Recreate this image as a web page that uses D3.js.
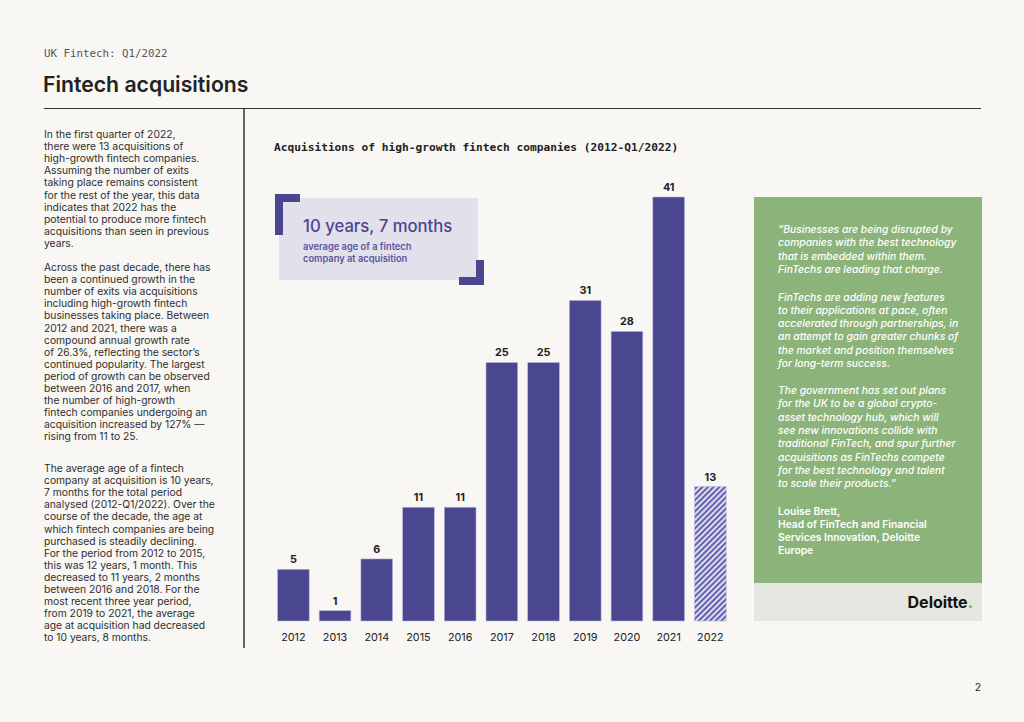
<!DOCTYPE html>
<html>
<head>
<meta charset="utf-8">
<script src="https://cdn.jsdelivr.net/npm/d3@7"></script>
<style>
  html, body { margin: 0; padding: 0; background: #f8f7f4; }
  svg { display: block; }
</style>
</head>
<body>
<div id="page"></div>
<script>
// data
var years = ["2012", "2013", "2014", "2015", "2016", "2017", "2018", "2019", "2020", "2021", "2022"];
var acquisitions = [5, 1, 6, 11, 11, 25, 25, 31, 28, 41, 13];
var partialYear = "2022"; // Q1 only, drawn hatched

var para1 = [
  "In the first quarter of 2022,",
  "there were 13 acquisitions of",
  "high-growth fintech companies.",
  "Assuming the number of exits",
  "taking place remains consistent",
  "for the rest of the year, this data",
  "indicates that 2022 has the",
  "potential to produce more fintech",
  "acquisitions than seen in previous",
  "years."
];
var para2 = [
  "Across the past decade, there has",
  "been a continued growth in the",
  "number of exits via acquisitions",
  "including high-growth fintech",
  "businesses taking place. Between",
  "2012 and 2021, there was a",
  "compound annual growth rate",
  "of 26.3%, reflecting the sector\u2019s",
  "continued popularity. The largest",
  "period of growth can be observed",
  "between 2016 and 2017, when",
  "the number of high-growth",
  "fintech companies undergoing an",
  "acquisition increased by 127% \u2014",
  "rising from 11 to 25."
];
var para3 = [
  "The average age of a fintech",
  "company at acquisition is 10 years,",
  "7 months for the total period",
  "analysed (2012-Q1/2022). Over the",
  "course of the decade, the age at",
  "which fintech companies are being",
  "purchased is steadily declining.",
  "For the period from 2012 to 2015,",
  "this was 12 years, 1 month. This",
  "decreased to 11 years, 2 months",
  "between 2016 and 2018. For the",
  "most recent three year period,",
  "from 2019 to 2021, the average",
  "age at acquisition had decreased",
  "to 10 years, 8 months."
];

var quote1 = [
  "\u201cBusinesses are being disrupted by",
  "companies with the best technology",
  "that is embedded within them.",
  "FinTechs are leading that charge."
];
var quote2 = [
  "FinTechs are adding new features",
  "to their applications at pace, often",
  "accelerated through partnerships, in",
  "an attempt to gain greater chunks of",
  "the market and position themselves",
  "for long-term success."
];
var quote3 = [
  "The government has set out plans",
  "for the UK to be a global crypto-",
  "asset technology hub, which will",
  "see new innovations collide with",
  "traditional FinTech, and spur further",
  "acquisitions as FinTechs compete",
  "for the best technology and talent",
  "to scale their products.\u201d"
];
var author = [
  "Louise Brett,",
  "Head of FinTech and Financial",
  "Services Innovation, Deloitte",
  "Europe"
];

var w = 1024;
var h = 722;
var purple = "#4a4690";
var sans = "Inter, Roboto, sans-serif";
var mono = "'DejaVu Sans Mono', 'Liberation Mono', monospace";

var svg = d3.select("#page").append("svg")
  .attr("width", w)
  .attr("height", h);

svg.append("rect").attr("width", w).attr("height", h).attr("fill", "#f8f7f4");

// hatch for the partial year
var defs = svg.append("defs");
var hatch = defs.append("pattern")
  .attr("id", "hatch")
  .attr("patternUnits", "userSpaceOnUse")
  .attr("width", 4)
  .attr("height", 4)
  .attr("patternTransform", "rotate(-45)");
hatch.append("rect").attr("width", 4).attr("height", 4).attr("fill", "#dcdcef");
hatch.append("rect").attr("width", 4).attr("height", 2).attr("fill", "#6561ae");

// header
svg.append("text")
  .attr("x", 44).attr("y", 57)
  .attr("font-family", mono).attr("font-size", "10.8px")
  .attr("fill", "#555")
  .text("UK Fintech: Q1/2022");

svg.append("text")
  .attr("x", 43).attr("y", 92)
  .attr("font-family", sans).attr("font-size", "21.2px").attr("font-weight", 600)
  .attr("fill", "#222")
  .text("Fintech acquisitions");

svg.append("line")
  .attr("x1", 44).attr("x2", 981).attr("y1", 108.5).attr("y2", 108.5)
  .attr("stroke", "#333").attr("stroke-width", 1.2);
svg.append("line")
  .attr("x1", 244).attr("x2", 244).attr("y1", 108).attr("y2", 648)
  .attr("stroke", "#333").attr("stroke-width", 1.5);

// text blocks
function block(lines, x, y, lh, opts) {
  var t = svg.append("text")
    .attr("font-family", sans)
    .attr("font-size", opts.size)
    .attr("fill", opts.fill)
    .attr("font-style", opts.style || "normal")
    .attr("font-weight", opts.weight || 400);
  t.selectAll("tspan")
    .data(lines)
    .enter()
    .append("tspan")
    .attr("x", x)
    .attr("y", function(d, i) { return y + i * lh; })
    .text(function(d) { return d; });
}

var bodyOpts = {size: "10.3px", fill: "#2e2e2e"};
block(para1, 44, 138, 12.1, bodyOpts);
block(para2, 44, 271, 12.1, bodyOpts);
block(para3, 44, 472, 12.1, bodyOpts);

// chart title
svg.append("text")
  .attr("x", 274).attr("y", 151)
  .attr("font-family", mono).attr("font-size", "11.2px").attr("font-weight", 700)
  .attr("fill", "#222")
  .text("Acquisitions of high-growth fintech companies (2012-Q1/2022)");

// bars
var x = d3.scaleBand()
  .domain(years)
  .range([272.5, 731.2])
  .paddingInner(0.24)
  .paddingOuter(0.12);

var y = d3.scaleLinear()
  .domain([0, 41])
  .range([621, 197]);

var bars = svg.append("g");
bars.selectAll("rect")
  .data(acquisitions)
  .enter()
  .append("rect")
  .attr("x", function(d, i) { return x(years[i]); })
  .attr("y", function(d) { return y(d); })
  .attr("width", x.bandwidth())
  .attr("height", function(d) { return y(0) - y(d); })
  .attr("fill", function(d, i) { return years[i] === partialYear ? "url(#hatch)" : purple; })
  .attr("stroke", "#b9b7dc")
  .attr("stroke-width", 0.6);

bars.selectAll("text")
  .data(acquisitions)
  .enter()
  .append("text")
  .text(function(d) { return d; })
  .attr("x", function(d, i) { return x(years[i]) + x.bandwidth() / 2; })
  .attr("y", function(d) { return y(d) - 6; })
  .attr("text-anchor", "middle")
  .attr("font-family", sans).attr("font-size", "10.8px").attr("font-weight", 700)
  .attr("fill", "#222");

var xAxis = svg.append("g")
  .attr("transform", "translate(0," + 621 + ")")
  .call(d3.axisBottom(x).tickSize(0).tickPadding(12));
xAxis.select(".domain").remove();
xAxis.selectAll("text")
  .attr("font-family", sans).attr("font-size", "10.8px")
  .attr("fill", "#222");

// callout
var callout = svg.append("g");
callout.append("rect")
  .attr("x", 279).attr("y", 198).attr("width", 199).attr("height", 82)
  .attr("fill", "#e1e0eb");
callout.append("path")
  .attr("d", "M275,194H300V202H283V235H275Z")
  .attr("fill", purple);
callout.append("path")
  .attr("d", "M484,285H459V277H476V260H484Z")
  .attr("fill", purple);
callout.append("text")
  .attr("x", 303).attr("y", 232)
  .attr("font-family", sans).attr("font-size", "16.7px").attr("font-weight", 500)
  .attr("fill", purple)
  .text("10 years, 7 months");
callout.append("text")
  .attr("x", 303).attr("y", 250)
  .attr("font-family", sans).attr("font-size", "9.3px").attr("font-weight", 600)
  .attr("fill", "#5a56a0")
  .text("average age of a fintech");
callout.append("text")
  .attr("x", 303).attr("y", 262)
  .attr("font-family", sans).attr("font-size", "9.3px").attr("font-weight", 600)
  .attr("fill", "#5a56a0")
  .text("company at acquisition");

// quote box
svg.append("rect")
  .attr("x", 754).attr("y", 197).attr("width", 228).attr("height", 386)
  .attr("fill", "#8bb37a");
svg.append("rect")
  .attr("x", 754).attr("y", 583).attr("width", 228).attr("height", 38)
  .attr("fill", "#e6e6e1");

var qOpts = {size: "10.3px", fill: "#fff", style: "italic", weight: 500};
block(quote1, 778, 233, 13.33, qOpts);
block(quote2, 778, 300.5, 13.33, qOpts);
block(quote3, 778, 394, 13.33, qOpts);
block(author, 778, 514.5, 13.33, {size: "10.3px", fill: "#fff", weight: 600});

// logo
var logo = svg.append("text")
  .attr("x", 973).attr("y", 608)
  .attr("text-anchor", "end")
  .attr("font-family", sans).attr("font-size", "16px").attr("font-weight", 700)
  .attr("fill", "#111");
logo.append("tspan").text("Deloitte");
logo.append("tspan").attr("fill", "#86bc25").text(".");

// page number
svg.append("text")
  .attr("x", 978).attr("y", 691)
  .attr("text-anchor", "middle")
  .attr("font-family", sans).attr("font-size", "10.5px")
  .attr("fill", "#222")
  .text("2");
</script>
</body>
</html>
